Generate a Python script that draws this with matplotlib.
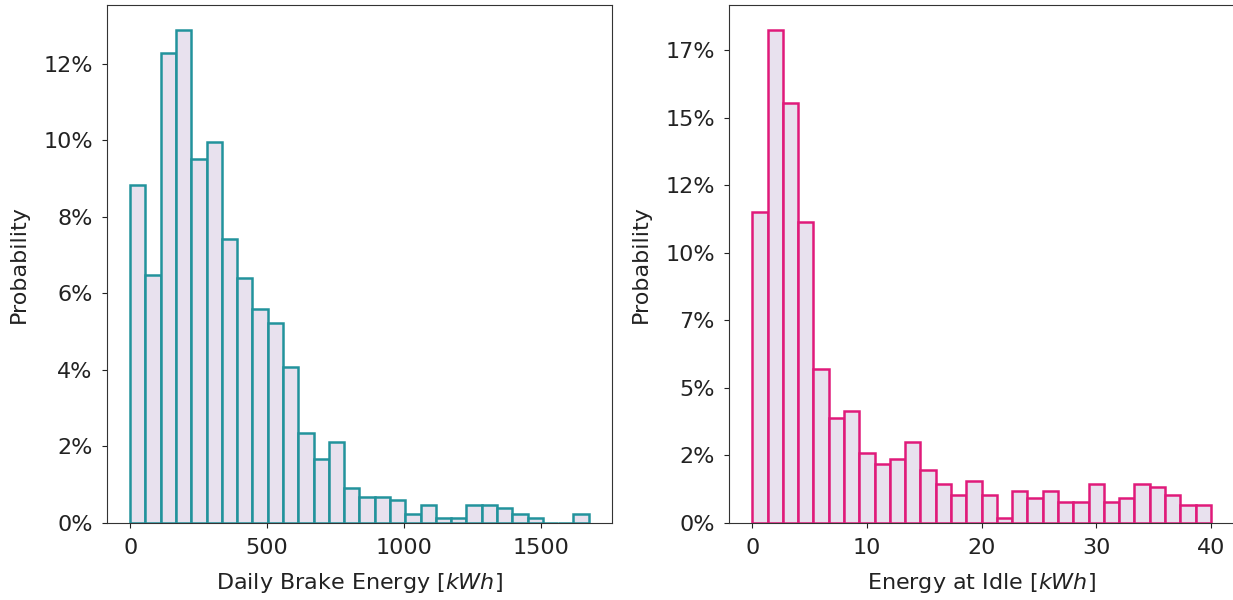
import numpy as np
import matplotlib.pyplot as plt
from matplotlib.ticker import FuncFormatter, MultipleLocator

# bin ranges (kWh) and bar heights (probability, %)
brake_range = (0, 1675)
brake_prob = [8.82, 6.49, 12.29, 12.88, 9.50, 9.96, 7.43, 6.41, 5.59, 5.22,
              4.07, 2.34, 1.66, 2.11, 0.92, 0.68, 0.68, 0.61, 0.24, 0.48,
              0.14, 0.14, 0.48, 0.48, 0.39, 0.24, 0.14, 0.0, 0.0, 0.24]

idle_range = (0, 40)
idle_prob = [11.52, 18.24, 15.53, 11.14, 5.71, 3.90, 4.16, 2.59, 2.18, 2.36,
             3.01, 1.98, 1.45, 1.05, 1.57, 1.05, 0.18, 1.18, 0.93, 1.18,
             0.76, 0.76, 1.45, 0.76, 0.93, 1.45, 1.32, 1.05, 0.66, 0.66]

fill = "#e8e1ee"
teal = "#22939c"
magenta = "#e01a7a"
txt = "#222222"

plt.rcParams["font.size"] = 16
plt.rcParams["text.color"] = txt
plt.rcParams["axes.labelcolor"] = txt
plt.rcParams["xtick.color"] = txt
plt.rcParams["ytick.color"] = txt
plt.rcParams["xtick.major.pad"] = 7
plt.rcParams["ytick.major.pad"] = 7
plt.rcParams["axes.labelpad"] = 10

fig = plt.figure(figsize=(12.33, 6), dpi=100)
ax1 = fig.add_axes([0.087, 0.1283, 0.4091, 0.8628])
ax2 = fig.add_axes([0.5915, 0.1283, 0.4091, 0.8628])

pct = FuncFormatter(lambda y, pos: f"{int(np.floor(y * 100 + 1e-6))}%")


def hist(ax, rng, probs, color, xlabel, xstep):
    edges = np.linspace(rng[0], rng[1], len(probs) + 1)
    heights = np.array(probs) / 100
    ax.bar(edges[:-1], heights, width=np.diff(edges), align="edge",
           facecolor=fill, edgecolor=color, linewidth=1.8)
    ax.yaxis.set_major_formatter(pct)
    ax.xaxis.set_major_locator(MultipleLocator(xstep))
    ax.set_ylabel("Probability")
    ax.set_xlabel(xlabel)
    for s in ax.spines.values():
        s.set_color("#333333")


hist(ax1, brake_range, brake_prob, teal, "Daily Brake Energy [$kWh$]", 500)
hist(ax2, idle_range, idle_prob, magenta, "Energy at Idle [$kWh$]", 10)

fig.savefig("out.png", dpi=100)
